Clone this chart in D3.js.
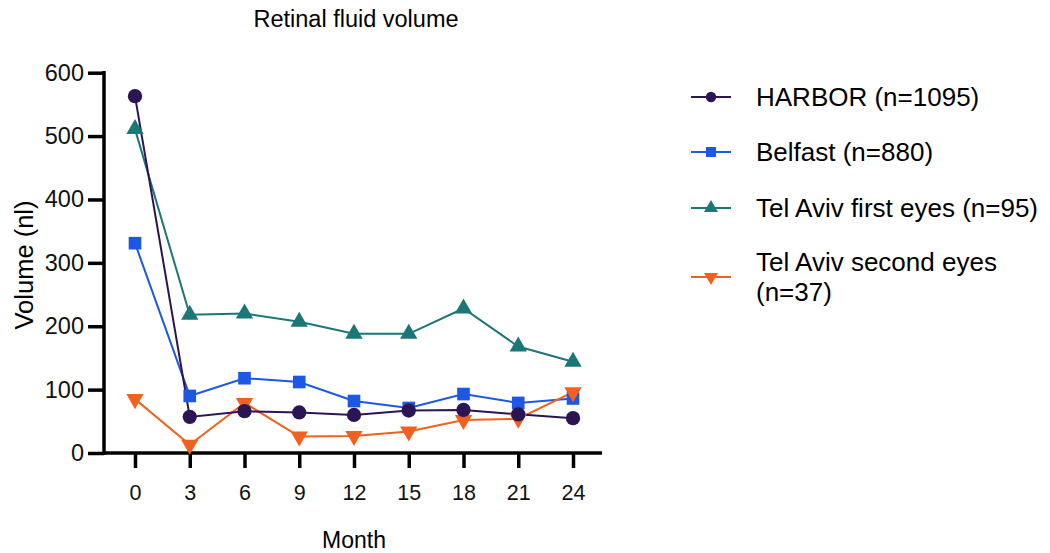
<!DOCTYPE html>
<html><head><meta charset="utf-8">
<script src="https://cdn.jsdelivr.net/npm/d3@7"></script>
<style>body{margin:0;background:#fff}svg{display:block}text{font-family:Arial,"Liberation Sans",sans-serif}</style>
</head><body><svg id="c" width="1050" height="553"></svg>
<script>
const months = [0,3,6,9,12,15,18,21,24];
const harbor = [563,57,66,64,60,67,68,61,55];
const belfast = [331,90,118,112,82,71,93,79,86];
const telAvivFirst = [511,218,220,207,188,188,228,168,144];
const telAvivSecond = [85,13,79,26,27,34,52,54,96];
const seriesNames = ["HARBOR (n=1095)","Belfast (n=880)","Tel Aviv first eyes (n=95)","Tel Aviv second eyes (n=37)"];
const seriesColors = ["#2b1552","#1d57e6","#1b7775","#f0601e"];
const seriesSymbols = [d3.symbolCircle,d3.symbolSquare,d3.symbolTriangle,d3.symbolTriangle];
const yTicks = [0,100,200,300,400,500,600];

const svg = d3.select("#c");
const x = d3.scaleLinear().domain([0,24]).range([135,573]);
const y = d3.scaleLinear().domain([0,600]).range([453,72.7]);
const series = [harbor,belfast,telAvivFirst,telAvivSecond];

svg.append("text").attr("x",356).attr("y",27).attr("text-anchor","middle").attr("font-size",23.5).text("Retinal fluid volume");

const gx = svg.append("g").attr("transform","translate(0,453)")
  .call(d3.axisBottom(x).tickValues(months).tickSize(15).tickPadding(17).tickSizeOuter(0));
gx.select(".domain").attr("d","M104,0H602");
const gy = svg.append("g").attr("transform","translate(104,0)")
  .call(d3.axisLeft(y).tickValues(yTicks).tickSize(16).tickPadding(4).tickSizeOuter(0));
[gx,gy].forEach(g=>{
  g.selectAll(".domain").attr("stroke","#000").attr("stroke-width",3.5);
  g.selectAll(".tick line").attr("stroke","#000").attr("stroke-width",3.5);
  g.selectAll("text").attr("fill","#111").attr("font-family","Arial,'Liberation Sans',sans-serif");
});
gx.selectAll("text").attr("font-size",21.5);
gy.selectAll("text").attr("font-size",23.5);
gy.select(".domain").attr("d","M0,454.7V71");

svg.append("text").attr("transform","translate(33,265) rotate(-90)").attr("text-anchor","middle").attr("font-size",25.5).text("Volume (nl)");
svg.append("text").attr("x",354).attr("y",548).attr("text-anchor","middle").attr("font-size",23).text("Month");

const line = d3.line().x((d,i)=>x(months[i])).y(d=>y(d));
function sym(i, size){
  return d3.symbol().type(seriesSymbols[i]).size(size)();
}
[2,1,3,0].forEach(i=>{
  svg.append("path").datum(series[i]).attr("d",line).attr("fill","none").attr("stroke",seriesColors[i]).attr("stroke-width",2);
});
[2,1,3,0].forEach(i=>{
  svg.append("g").selectAll("path").data(series[i]).join("path")
    .attr("d",sym(i, i===1?160:(i===0?160:130)))
    .attr("transform",(d,j)=>`translate(${x(months[j])},${y(d)})${i===3?" rotate(180)":""}`)
    .attr("fill",seriesColors[i]);
});

// legend
const rowsY = [97,152,208,277];
seriesNames.forEach((n,i)=>{
  const g = svg.append("g").attr("transform",`translate(0,${rowsY[i]})`);
  g.append("line").attr("x1",691).attr("x2",731).attr("y1",0).attr("y2",0).attr("stroke",seriesColors[i]).attr("stroke-width",2);
  g.append("path").attr("d",sym(i, i===1?100:85)).attr("transform",`translate(711,0)${i===3?" rotate(180)":""}`).attr("fill",seriesColors[i]);
  if(i<3){
    g.append("text").attr("x",756).attr("y",9).attr("font-size",26).text(n);
  } else {
    g.append("text").attr("x",756).attr("y",-6).attr("font-size",26).text("Tel Aviv second eyes");
    g.append("text").attr("x",756).attr("y",24).attr("font-size",26).text("(n=37)");
  }
});
</script></body></html>
